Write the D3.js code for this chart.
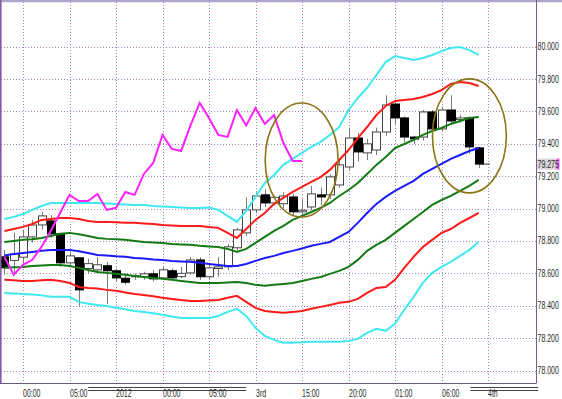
<!DOCTYPE html>
<html>
<head>
<meta charset="utf-8">
<script src="https://cdn.jsdelivr.net/npm/d3@7"></script>
<style>
body { margin: 0; background: #fff; }
svg { display: block; }
text { font-family: "Liberation Sans", Arial, sans-serif; font-size: 10px; fill: #2a2a2a; }
</style>
</head>
<body>
<script>
const width = 562;
const height = 399;

// hourly candles, index 0..51
const open  = [78.702, 78.680, 78.700, 78.825, 78.899, 78.924, 78.844, 78.665, 78.696, 78.630,
               78.622, 78.647, 78.616, 78.570, 78.580, 78.579, 78.597, 78.572, 78.616, 78.580,
               78.603, 78.683, 78.579, 78.630, 78.640, 78.758, 78.850, 78.992, 79.085, 79.035,
               79.030, 79.072, 78.980, 79.010, 79.085, 79.085, 79.146, 79.257, 79.436, 79.344,
               79.362, 79.473, 79.646, 79.560, 79.442, 79.442, 79.597, 79.492, 79.609, 79.550,
               79.560, 79.375];
const high  = [78.745, 78.850, 78.870, 78.930, 78.980, 78.960, 78.850, 78.730, 78.700, 78.690,
               78.700, 78.670, 78.630, 78.600, 78.600, 78.610, 78.620, 78.640, 78.630, 78.640,
               78.700, 78.700, 78.660, 78.700, 78.780, 78.880, 79.070, 79.100, 79.120, 79.080,
               79.100, 79.090, 79.060, 79.140, 79.130, 79.210, 79.310, 79.500, 79.470, 79.430,
               79.500, 79.700, 79.660, 79.570, 79.450, 79.610, 79.610, 79.630, 79.700, 79.580,
               79.570, 79.380];
const low   = [78.590, 78.590, 78.660, 78.790, 78.870, 78.820, 78.640, 78.640, 78.400, 78.600,
               78.600, 78.410, 78.550, 78.530, 78.560, 78.560, 78.550, 78.560, 78.560, 78.570,
               78.590, 78.560, 78.560, 78.580, 78.620, 78.740, 78.830, 78.970, 79.010, 79.020,
               79.000, 78.960, 78.960, 78.990, 79.020, 79.060, 79.130, 79.240, 79.290, 79.300,
               79.330, 79.450, 79.520, 79.410, 79.400, 79.420, 79.470, 79.480, 79.520, 79.530,
               79.340, 79.250];
const close = [78.634, 78.720, 78.825, 78.899, 78.955, 78.844, 78.665, 78.708, 78.498, 78.660,
               78.653, 78.616, 78.572, 78.545, 78.585, 78.597, 78.566, 78.622, 78.572, 78.600,
               78.683, 78.579, 78.634, 78.640, 78.764, 78.869, 78.992, 79.078, 79.035, 79.070,
               79.078, 78.980, 78.990, 79.091, 79.072, 79.196, 79.270, 79.436, 79.350, 79.400,
               79.473, 79.640, 79.560, 79.442, 79.430, 79.597, 79.492, 79.609, 79.541, 79.560,
               79.381, 79.275];

// bollinger bands
const midBand = [78.711, 78.720, 78.726, 78.732, 78.739, 78.745, 78.745, 78.745, 78.736, 78.726,
                 78.714, 78.711, 78.705, 78.702, 78.695, 78.692, 78.686, 78.683, 78.677, 78.674,
                 78.671, 78.665, 78.658, 78.652, 78.646, 78.646, 78.658, 78.677, 78.695, 78.708,
                 78.726, 78.739, 78.754, 78.770, 78.782, 78.794, 78.825, 78.856, 78.912, 78.973,
                 79.029, 79.072, 79.109, 79.140, 79.171, 79.214, 79.245, 79.276, 79.307, 79.331,
                 79.356, 79.374];
const up1 = [78.794, 78.800, 78.807, 78.810, 78.819, 78.831, 78.844, 78.850, 78.841, 78.831,
             78.819, 78.813, 78.810, 78.807, 78.800, 78.794, 78.791, 78.788, 78.782, 78.779,
             78.776, 78.770, 78.766, 78.763, 78.751, 78.732, 78.751, 78.788, 78.825, 78.862,
             78.893, 78.930, 78.955, 78.979, 79.004, 79.035, 79.078, 79.115, 79.158, 79.214,
             79.270, 79.319, 79.374, 79.399, 79.424, 79.455, 79.479, 79.498, 79.523, 79.541,
             79.560, 79.566];
const dn1 = [78.634, 78.637, 78.640, 78.646, 78.649, 78.652, 78.652, 78.646, 78.634, 78.621,
             78.609, 78.603, 78.597, 78.591, 78.584, 78.578, 78.572, 78.566, 78.560, 78.553,
             78.547, 78.541, 78.541, 78.541, 78.544, 78.547, 78.541, 78.529, 78.523, 78.529,
             78.535, 78.541, 78.553, 78.566, 78.578, 78.597, 78.615, 78.640, 78.683, 78.739,
             78.776, 78.807, 78.850, 78.893, 78.936, 78.979, 79.023, 79.053, 79.078, 79.109,
             79.140, 79.177];
const up2 = [78.862, 78.874, 78.887, 78.905, 78.930, 78.936, 78.942, 78.942, 78.936, 78.924,
             78.918, 78.918, 78.915, 78.912, 78.912, 78.908, 78.905, 78.899, 78.896, 78.893,
             78.893, 78.893, 78.887, 78.881, 78.850, 78.819, 78.874, 78.930, 78.973, 79.029,
             79.066, 79.103, 79.134, 79.165, 79.195, 79.239, 79.300, 79.362, 79.436, 79.504,
             79.578, 79.634, 79.665, 79.671, 79.677, 79.689, 79.708, 79.732, 79.770, 79.782,
             79.776, 79.757];
const dn2 = [78.560, 78.557, 78.553, 78.553, 78.557, 78.560, 78.553, 78.541, 78.516, 78.510,
             78.507, 78.498, 78.492, 78.482, 78.473, 78.467, 78.458, 78.449, 78.442, 78.436,
             78.430, 78.430, 78.433, 78.436, 78.449, 78.461, 78.424, 78.387, 78.368, 78.362,
             78.356, 78.362, 78.368, 78.381, 78.393, 78.405, 78.418, 78.424, 78.442, 78.479,
             78.510, 78.516, 78.560, 78.634, 78.702, 78.763, 78.807, 78.850, 78.874, 78.912,
             78.942, 78.973];
const up3 = [78.936, 78.949, 78.967, 78.992, 79.016, 79.035, 79.035, 79.035, 79.035, 79.035,
             79.035, 79.032, 79.029, 79.026, 79.023, 79.023, 79.016, 79.013, 79.010, 79.007,
             79.004, 79.004, 79.007, 78.992, 78.955, 78.918, 78.986, 79.072, 79.158, 79.208,
             79.270, 79.307, 79.344, 79.381, 79.412, 79.455, 79.504, 79.609, 79.683, 79.745,
             79.825, 79.905, 79.942, 79.930, 79.918, 79.930, 79.949, 79.973, 79.992, 79.998,
             79.979, 79.949];
const dn3 = [78.479, 78.476, 78.473, 78.470, 78.464, 78.455, 78.455, 78.455, 78.424, 78.412,
             78.405, 78.399, 78.387, 78.378, 78.368, 78.362, 78.353, 78.344, 78.334, 78.325,
             78.325, 78.325, 78.325, 78.337, 78.362, 78.381, 78.337, 78.263, 78.214, 78.189,
             78.171, 78.171, 78.174, 78.177, 78.177, 78.177, 78.177, 78.183, 78.195, 78.232,
             78.257, 78.245, 78.288, 78.375, 78.455, 78.541, 78.603, 78.640, 78.671, 78.708,
             78.745, 78.794];

// lagging span (index 0..32)
const lagSpan = [78.702, 78.591, 78.653, 78.684, 78.765, 78.863, 78.974, 79.085, 79.047, 79.047,
                 79.091, 78.992, 79.005, 79.103, 79.085, 79.214, 79.282, 79.455, 79.369, 79.356,
                 79.513, 79.653, 79.560, 79.455, 79.443, 79.609, 79.513, 79.621, 79.523, 79.578,
                 79.405, 79.294, 79.294];

const tickIdx = [2, 7, 12, 17, 22, 27, 32, 37, 42, 47, 52];
const tickLabels = ['00:00', '05:00', '2012', '00:00', '05:00', '3rd', '15:00', '20:00', '01:00', '06:00', '4th'];
const priceTicks = d3.range(78, 80.001, 0.2);
const daySpans = [[9, 26], [50.1, 57.4]];
// annotation ellipses: centre (index, price), half sizes (index, price)
const rings = [[31.96, 79.300, 3.92, 0.352], [50.0, 79.449, 3.97, 0.352]];
const lastPrice = 79.275;

const plotRight = 536.5;
const plotBottom = 383;

const svg = d3.select('body')
    .append('svg')
    .attr('width', width)
    .attr('height', height);

const x = d3.scaleLinear().domain([0, 52]).range([4.4, 488]);
const y = d3.scaleLinear().domain([78, 80]).range([370.5, 46.7]);

// grid
const grid = svg.append('g').attr('class', 'grid');
priceTicks.forEach(t => {
    grid.append('line')
        .attr('x1', 1).attr('x2', plotRight)
        .attr('y1', Math.round(y(t)) + 0.5).attr('y2', Math.round(y(t)) + 0.5)
        .attr('stroke', '#d070d0').attr('stroke-dasharray', '1,2');
    grid.append('line')
        .attr('x1', 1).attr('x2', plotRight)
        .attr('y1', Math.round(y(t)) + 0.5).attr('y2', Math.round(y(t)) + 0.5)
        .attr('stroke', '#70a0a0').attr('stroke-dasharray', '1,5');
});
tickIdx.forEach(i => {
    grid.append('line')
        .attr('x1', Math.round(x(i)) + 0.5).attr('x2', Math.round(x(i)) + 0.5)
        .attr('y1', 2).attr('y2', plotBottom)
        .attr('stroke', '#d070d0').attr('stroke-dasharray', '1,2');
    grid.append('line')
        .attr('x1', Math.round(x(i)) + 0.5).attr('x2', Math.round(x(i)) + 0.5)
        .attr('y1', 2).attr('y2', plotBottom)
        .attr('stroke', '#70a0a0').attr('stroke-dasharray', '1,5');
});

// candles
const candles = svg.append('g').attr('class', 'candles');
const idx = d3.range(close.length);
candles.selectAll('line.wick')
    .data(idx)
    .enter()
    .append('line')
    .attr('class', 'wick')
    .attr('x1', i => Math.round(x(i)) + 0.5)
    .attr('x2', i => Math.round(x(i)) + 0.5)
    .attr('y1', i => y(high[i]))
    .attr('y2', i => y(low[i]))
    .attr('stroke', '#7a7a7a');
candles.selectAll('rect.body')
    .data(idx)
    .enter()
    .append('rect')
    .attr('class', 'body')
    .attr('x', i => Math.round(x(i)) - 4 + 0.5)
    .attr('width', 8)
    .attr('y', i => y(Math.max(open[i], close[i])))
    .attr('height', i => Math.max(1, Math.abs(y(open[i]) - y(close[i]))))
    .attr('fill', i => close[i] < open[i] ? '#000' : '#fff')
    .attr('stroke', i => close[i] < open[i] ? '#000' : '#454545');

// close marker
svg.append('line')
    .attr('x1', x(51)).attr('x2', x(52.2))
    .attr('y1', y(lastPrice)).attr('y2', y(lastPrice))
    .attr('stroke', '#333');

// bands
const bandLine = d3.line().x((d, i) => x(i)).y(d => y(d));
const bands = [
    [dn3, '#40e8f0'], [up3, '#40e8f0'],
    [dn2, '#ff1a1a'], [up2, '#ff1a1a'],
    [dn1, '#147a14'], [up1, '#147a14'],
    [midBand, '#1a1aff']
];
svg.append('g')
    .attr('class', 'bands')
    .selectAll('path')
    .data(bands)
    .enter()
    .append('path')
    .attr('d', d => bandLine(d[0]))
    .attr('stroke', d => d[1])
    .attr('stroke-width', 2)
    .attr('fill', 'none');

svg.append('path')
    .attr('d', bandLine(lagSpan))
    .attr('stroke', '#ff20ff')
    .attr('stroke-width', 2)
    .attr('fill', 'none');

// annotation ellipses
svg.append('g')
    .selectAll('ellipse')
    .data(rings)
    .enter()
    .append('ellipse')
    .attr('cx', d => x(d[0]))
    .attr('cy', d => y(d[1]))
    .attr('rx', d => x(d[2]) - x(0))
    .attr('ry', d => y(0) - y(d[3]))
    .attr('fill', 'none')
    .attr('stroke', '#8c7414')
    .attr('stroke-width', 1.6);

// frame
svg.append('line')
    .attr('x1', 0).attr('x2', width).attr('y1', 1).attr('y2', 1)
    .attr('stroke', '#b0a4cc').attr('stroke-width', 2.5);
svg.append('line')
    .attr('x1', 0.8).attr('x2', 0.8).attr('y1', 0).attr('y2', plotBottom)
    .attr('stroke', '#8a5aa8').attr('stroke-width', 1.6);
svg.append('line')
    .attr('x1', plotRight).attr('x2', plotRight).attr('y1', 0).attr('y2', plotBottom)
    .attr('stroke', '#7a5a90');
svg.append('line')
    .attr('x1', 0).attr('x2', plotRight).attr('y1', plotBottom + 0.5).attr('y2', plotBottom + 0.5)
    .attr('stroke', '#6a5a80');

// day span double lines
daySpans.forEach(s => {
    [387, 390].forEach(yy => {
        svg.append('line')
            .attr('x1', x(s[0])).attr('x2', x(s[1]))
            .attr('y1', yy + 0.5).attr('y2', yy + 0.5)
            .attr('stroke', '#444');
    });
});

// narrow text: horizontal squeeze by transform
function narrowText(parent, tx, ty, str) {
    return parent.append('text')
        .attr('transform', `translate(${tx},${ty}) scale(0.7,1)`)
        .text(str);
}

// price labels
const priceAxis = svg.append('g').attr('class', 'price-axis');
priceTicks.forEach(t => narrowText(priceAxis, plotRight + 1, y(t) + 3.5, d3.format('.3f')(t)));

// time labels
const timeAxis = svg.append('g').attr('class', 'time-axis');
tickIdx.forEach((d, i) => narrowText(timeAxis, Math.round(x(d)), 397, tickLabels[i]));

// last price tag
svg.append('rect')
    .attr('x', plotRight + 0.5).attr('y', y(lastPrice) - 5.5)
    .attr('width', 22).attr('height', 11)
    .attr('fill', '#dcd6dc');
svg.append('rect')
    .attr('x', plotRight + 20).attr('y', y(lastPrice) - 5.5)
    .attr('width', 3).attr('height', 11)
    .attr('fill', '#f060f0');
narrowText(svg, plotRight + 1, y(lastPrice) + 3.5, d3.format('.3f')(lastPrice));
</script>
</body>
</html>
